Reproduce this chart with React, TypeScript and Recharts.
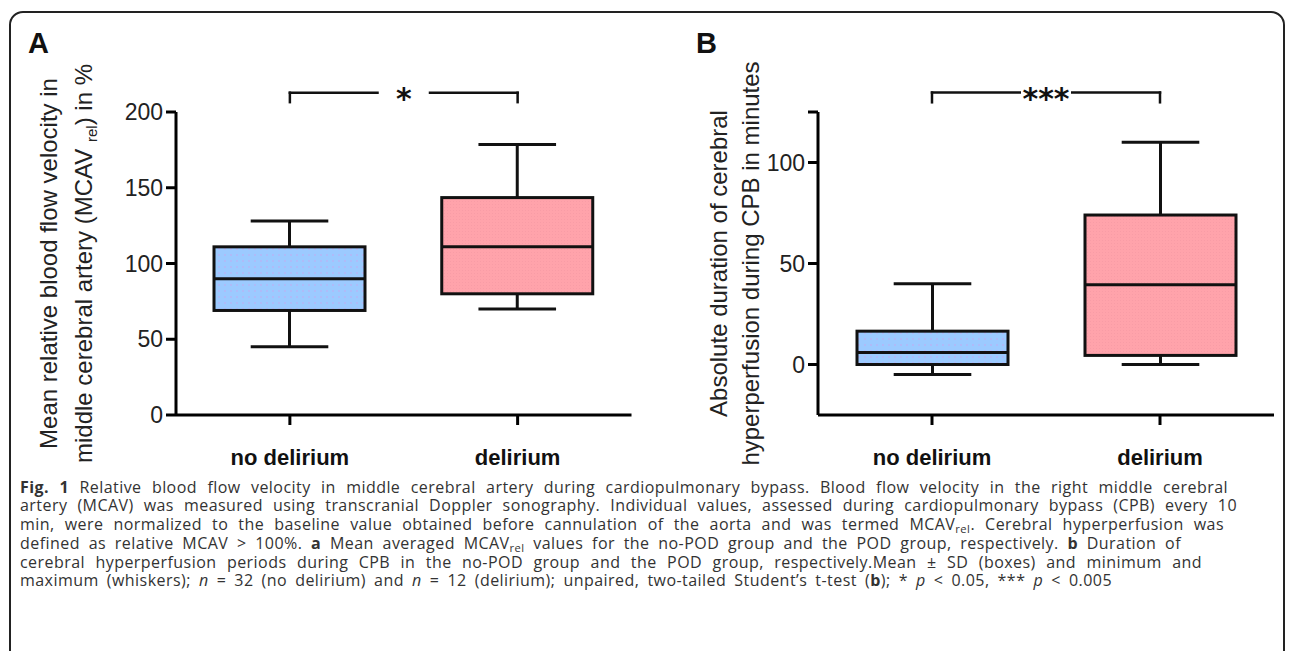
import React from 'react';
import { ComposedChart, Bar, XAxis, YAxis, ReferenceLine } from 'recharts';

// ---------- data ----------
const categories = ['no delirium', 'delirium'];

// Panel A: mean relative MCAV (%), boxes = mean ± SD, whiskers = min / max
const mcavMin = [45, 70];
const mcavLow = [69, 80];
const mcavMean = [90, 111];
const mcavHigh = [111, 143.5];
const mcavMax = [128, 178.5];
const mcavTicks = [0, 50, 100, 150, 200];
const mcavDomain: [number, number] = [0, 200];

// Panel B: absolute duration of cerebral hyperperfusion (min)
const durMin = [-5, 0];
const durLow = [0, 4.5];
const durMean = [6, 39.5];
const durHigh = [16.5, 74];
const durMax = [40, 110];
const durTicks = [0, 50, 100, 125];
const durTickLabels = ['0', '50', '100', ''];
const durDomain: [number, number] = [-25, 125];

// significance brackets (data units)
const sigA = { text: '*', top: 212.7, end: 206.5 };
const sigB = { text: '***', top: 134.6, end: 129.8 };

const FONT = '"Liberation Sans", Arial, Helvetica, sans-serif';

function buildRows(min: number[], low: number[], mean: number[], high: number[], max: number[]) {
  return categories.map((cat, i) => ({
    cat,
    idx: i,
    min: min[i],
    low: low[i],
    mean: mean[i],
    high: high[i],
    max: max[i],
    range: [min[i], max[i]],
  }));
}

const dataA = buildRows(mcavMin, mcavLow, mcavMean, mcavHigh, mcavMax);
const dataB = buildRows(durMin, durLow, durMean, durHigh, durMax);

// ---------- shapes ----------
const BoxShape = (props: any) => {
  const { x, y, width, height, panel } = props;
  const d = props.payload ?? props;
  if (d == null || d.max == null) return null;
  const top = Math.min(y, y + height);
  const h = Math.abs(height);
  const { min, max, low, mean, high, idx } = d;
  const py = (v: number) => top + (h * (max - v)) / (max - min);
  const cx = x + width / 2;
  const cap = width * 0.257;
  const pid = `boxfill-${panel}-${idx}`;
  const blue = idx === 0;
  const st = { stroke: '#111', strokeWidth: 3 };
  return (
    <g>
      <defs>
        {blue ? (
          <pattern id={pid} width={6} height={6} patternUnits="userSpaceOnUse">
            <rect width={6} height={6} fill="#9ccaff" />
            <circle cx={3} cy={3} r={0.9} fill="#b7b4f6" />
          </pattern>
        ) : (
          <pattern id={pid} width={3} height={3} patternUnits="userSpaceOnUse">
            <rect width={3} height={3} fill="#ffa3ab" />
            <rect width={1} height={1} fill="#f89ca6" />
          </pattern>
        )}
      </defs>
      <line x1={cx} x2={cx} y1={py(max)} y2={py(high)} {...st} />
      <line x1={cx} x2={cx} y1={py(low)} y2={py(min)} {...st} />
      <line x1={cx - cap} x2={cx + cap} y1={py(max)} y2={py(max)} {...st} />
      <line x1={cx - cap} x2={cx + cap} y1={py(min)} y2={py(min)} {...st} />
      <rect x={x} y={py(high)} width={width} height={py(low) - py(high)} fill={`url(#${pid})`} {...st} />
      <line x1={x} x2={x + width} y1={py(mean)} y2={py(mean)} {...st} />
    </g>
  );
};

const XTick = (props: any) => {
  const { x, y, payload } = props;
  return (
    <text x={x} y={y} dy={38} textAnchor="middle" fontFamily={FONT} fontSize={22} fontWeight="bold" fill="#111">
      {payload.value}
    </text>
  );
};

const StarLabel = (props: any) => {
  const vb = props.viewBox || { x: 0, y: 0, width: 0 };
  const cx = vb.x + vb.width / 2;
  const cy = vb.y;
  return (
    <g>
      <rect x={cx - props.gap / 2} y={cy - 5} width={props.gap} height={10} fill="#fff" />
      <text x={cx} y={cy + 16.5} textAnchor="middle" fontFamily='"DejaVu Sans", sans-serif' fontWeight="bold" fontSize={30} fill="#111">
        {props.text}
      </text>
    </g>
  );
};

const YLabel = (props: any) => {
  const vb = props.viewBox || { x: 0, y: 112, width: 176, height: 303 };
  const cy = vb.y + vb.height / 2;
  const b1 = vb.x + props.b1;
  const b2 = vb.x + props.b2;
  const common = { textAnchor: 'middle' as const, fontFamily: FONT, fontSize: 24, fill: '#222' };
  return (
    <g>
      <text x={b1} y={cy} transform={`rotate(-90 ${b1} ${cy})`} {...common}>
        {props.line1}
      </text>
      <text x={b2} y={cy} transform={`rotate(-90 ${b2} ${cy})`} {...common}>
        {props.line2}
      </text>
    </g>
  );
};

const axisStyle = { stroke: '#000', strokeWidth: 3 };
const yTickStyle = { fill: '#222', fontSize: 23, fontFamily: FONT };

function Panel(props: {
  data: any[];
  domain: [number, number];
  ticks: number[];
  tickFmt?: (v: number) => string;
  width: number;
  yAxisWidth: number;
  right: number;
  sig: { text: string; top: number; end: number };
  panel: string;
  label: React.ReactElement;
}) {
  const { data, domain, ticks, tickFmt, width, yAxisWidth, right, sig, panel, label } = props;
  const a = categories[0];
  const b = categories[1];
  const lineSt = { stroke: '#111', strokeWidth: 2.5, strokeLinecap: 'square' as const };
  return (
    <ComposedChart width={width} height={480} data={data} margin={{ top: 112, right, bottom: 0, left: 0 }}>
      <XAxis
        dataKey="cat"
        type="category"
        height={65}
        axisLine={axisStyle}
        tickLine={axisStyle}
        tickSize={10}
        interval={0}
        tick={(p: any) => <XTick {...p} />}
      />
      <YAxis
        type="number"
        domain={domain}
        ticks={ticks}
        interval={0}
        width={yAxisWidth}
        allowDataOverflow
        axisLine={axisStyle}
        tickLine={axisStyle}
        tickSize={10}
        tickMargin={3}
        tick={yTickStyle}
        tickFormatter={tickFmt}
        label={label}
      />
      <Bar dataKey="range" barSize={151} isAnimationActive={false} shape={(p: any) => <BoxShape {...p} panel={panel} />} />
      <ReferenceLine
        segment={[{ x: a, y: sig.top }, { x: b, y: sig.top }]}
        ifOverflow="visible"
        {...lineSt}
        label={<StarLabel text={sig.text} gap={50} />}
      />
      <ReferenceLine segment={[{ x: a, y: sig.top }, { x: a, y: sig.end }]} ifOverflow="visible" {...lineSt} />
      <ReferenceLine segment={[{ x: b, y: sig.top }, { x: b, y: sig.end }]} ifOverflow="visible" {...lineSt} />
    </ComposedChart>
  );
}

const sub = { fontSize: '0.7em', verticalAlign: '-0.3em', lineHeight: 0 } as const;

const captionLines: React.ReactNode[] = [
  <>
    <b>Fig. 1</b> Relative blood flow velocity in middle cerebral artery during cardiopulmonary bypass. Blood flow velocity in the right middle cerebral
  </>,
  <>artery (MCAV) was measured using transcranial Doppler sonography. Individual values, assessed during cardiopulmonary bypass (CPB) every 10</>,
  <>
    min, were normalized to the baseline value obtained before cannulation of the aorta and was termed MCAV<sub style={sub}>rel</sub>. Cerebral hyperperfusion was
  </>,
  <>
    defined as relative MCAV &gt; 100%. <b>a</b> Mean averaged MCAV<sub style={sub}>rel</sub> values for the no-POD group and the POD group, respectively. <b>b</b> Duration of
  </>,
  <>cerebral hyperperfusion periods during CPB in the no-POD group and the POD group, respectively.Mean ± SD (boxes) and minimum and</>,
  <>
    maximum (whiskers); <i>n</i> = 32 (no delirium) and <i>n</i> = 12 (delirium); unpaired, two-tailed Student’s t-test (<b>b</b>); * <i>p</i> &lt; 0.05, *** <i>p</i> &lt; 0.005
  </>,
];
const captionWidths: number[] = [1208, 1217, 1204, 1161, 1182, 1092];

export default function App() {
  return (
    <div style={{ position: 'relative', width: 1290, height: 651, overflow: 'hidden', background: '#fff' }}>
      <style>{'html,body{margin:0;padding:0;overflow:hidden;background:#fff}'}</style>
      <div
        style={{
          position: 'absolute',
          left: 9,
          top: 11,
          width: 1276,
          height: 800,
          border: '2px solid #222',
          borderRadius: 14,
          boxSizing: 'border-box',
        }}
      />
      <div style={{ position: 'absolute', left: 0, top: 0 }}>
        <Panel
          data={dataA}
          domain={mcavDomain}
          ticks={mcavTicks}
          width={660}
          yAxisWidth={176}
          right={28.5}
          sig={sigA}
          panel="a"
          label={
            <YLabel
              b1={57}
              b2={92}
              line1="Mean relative blood flow velocity in"
              line2={
                <>
                  middle cerebral artery  (MCAV{' '}
                  <tspan fontSize={15} dy={5}>
                    rel
                  </tspan>
                  <tspan dy={-5}>) in %</tspan>
                </>
              }
            />
          }
        />
      </div>
      <div style={{ position: 'absolute', left: 640, top: 0 }}>
        <Panel
          data={dataB}
          domain={durDomain}
          ticks={durTicks}
          tickFmt={(v: number) => durTickLabels[durTicks.indexOf(v)] ?? String(v)}
          width={650}
          yAxisWidth={178}
          right={16}
          sig={sigB}
          panel="b"
          label={<YLabel b1={87} b2={119} line1="Absolute duration of cerebral" line2="hyperperfusion during CPB in minutes" />}
        />
      </div>
      <svg width={1290} height={80} style={{ position: 'absolute', left: 0, top: 0, pointerEvents: 'none' }}>
        <text x={28} y={53} fontFamily={FONT} fontWeight="bold" fontSize={29} fill="#111">
          A
        </text>
        <text x={696} y={53} fontFamily={FONT} fontWeight="bold" fontSize={29} fill="#111">
          B
        </text>
      </svg>
      <div
        style={{
          position: 'absolute',
          left: 20,
          top: 477.5,
          fontFamily: '"Open Sans", "Noto Sans", sans-serif',
          fontSize: 16,
          letterSpacing: 0.45,
          color: '#333',
          lineHeight: '18.8px',
        }}
      >
        {captionLines.map((ln, i) => (
          <div
            key={i}
            style={{
              whiteSpace: 'nowrap',
              height: 18.8,
              width: captionWidths[i],
              textAlign: 'justify',
              textAlignLast: 'justify',
            }}
          >
            {ln}
          </div>
        ))}
      </div>
    </div>
  );
}
